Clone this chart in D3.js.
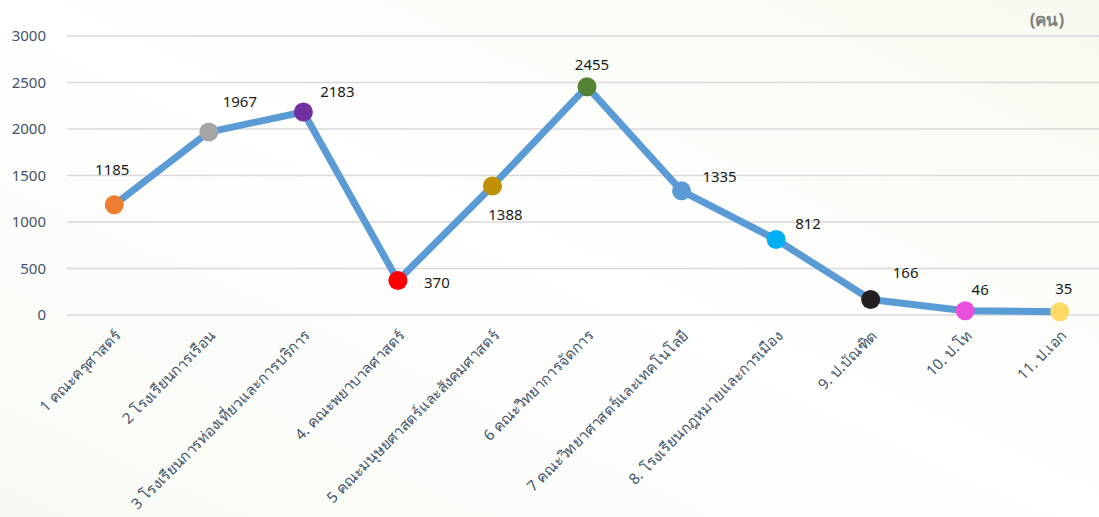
<!DOCTYPE html>
<html>
<head>
<meta charset="utf-8">
<script src="https://cdn.jsdelivr.net/npm/d3@7"></script>
<style>
  body { margin: 0; background: #fff; }
  svg { display: block; font-family: Tahoma, "Noto Sans", "DejaVu Sans", sans-serif; }
</style>
</head>
<body>
<div class="holder"></div>
<script>
var categories = [
  '1 คณะครุศาสตร์',
  '2 โรงเรียนการเรือน',
  '3 โรงเรียนการท่องเที่ยวและการบริการ',
  '4. คณะพยาบาลศาสตร์',
  '5 คณะมนุษยศาสตร์และสังคมศาสตร์',
  '6 คณะวิทยาการจัดการ',
  '7 คณะวิทยาศาสตร์และเทคโนโลยี',
  '8. โรงเรียนกฎหมายและการเมือง',
  '9. ป.บัณฑิต',
  '10. ป.โท',
  '11. ป.เอก'
]
var values = [1185, 1967, 2183, 370, 1388, 2455, 1335, 812, 166, 46, 35]
var pointColors = ['#ED7D31', '#A5A5A5', '#7030A0', '#FF0000', '#BF9000', '#548235',
  '#5B9BD5', '#00B0F0', '#231F20', '#E84FDD', '#FFD966']
var yTicks = [0, 500, 1000, 1500, 2000, 2500, 3000]
// where each value label sits relative to its point
var labelOffsets = [[-2, -35], [31, -30], [34, -20], [39, 2], [13, 29], [5, -22],
  [38, -14], [32, -16], [35, -27], [15, -21], [4, -23]]

var W = 1099, H = 517
var mLeft = 67, mRight = 1107, mTop = 36, mBottom = 315

var svg = d3.select('.holder')
  .append('svg')
  .attr('width', W)
  .attr('height', H)

// faint background wash
var defs = svg.append('defs')
var grad = defs.append('linearGradient')
  .attr('id', 'wash')
  .attr('x1', '0').attr('y1', '1').attr('x2', '1').attr('y2', '0')
grad.append('stop').attr('offset', '0').attr('stop-color', '#f7faf3')
grad.append('stop').attr('offset', '0.5').attr('stop-color', '#ffffff')
grad.append('stop').attr('offset', '1').attr('stop-color', '#f6faef')
svg.append('rect').attr('width', W).attr('height', H).attr('fill', 'url(#wash)')

var x = d3.scaleBand()
  .domain(categories)
  .range([mLeft, mRight])

var y = d3.scaleLinear()
  .domain([0, 3000])
  .range([mBottom, mTop])

// gridlines
svg.append('g')
  .selectAll('line')
  .data(yTicks)
  .enter()
  .append('line')
  .attr('x1', mLeft)
  .attr('x2', W)
  .attr('y1', function(d) { return y(d) })
  .attr('y2', function(d) { return y(d) })
  .attr('stroke', '#D9D9D9')
  .attr('stroke-width', 1.5)

var yAxis = d3.axisLeft(y)
  .tickValues(yTicks)
  .tickFormat(d3.format('d'))
  .tickSize(0)
  .tickPadding(21)

var yChart = svg.append('g')
  .attr('transform', 'translate(' + mLeft + ',0)')
  .call(yAxis)
yChart.select('.domain').remove()
yChart.selectAll('text')
  .attr('fill', '#44546A')
  .style('font-family', null)
  .style('font-size', '15px')
yChart.attr('font-family', null)

// x labels
var xAxis = d3.axisBottom(x).tickSize(0).tickPadding(0)
var xChart = svg.append('g')
  .attr('transform', 'translate(0,' + (mBottom + 18) + ')')
  .call(xAxis)
xChart.attr('font-family', null)
xChart.select('.domain').remove()
xChart.selectAll('text')
  .attr('fill', '#44546A')
  .style('font-size', '15px')
  .attr('text-anchor', 'end')
  .attr('dy', '0.35em')
  .attr('transform', 'translate(4,0) rotate(-45)')

var cx = function(d, i) { return x(categories[i]) + x.bandwidth() / 2 }

var line = d3.line()
  .x(function(d, i) { return cx(d, i) })
  .y(function(d) { return y(d) })

svg.append('path')
  .datum(values)
  .attr('d', line)
  .attr('fill', 'none')
  .attr('stroke', '#5B9BD5')
  .attr('stroke-width', 7)
  .attr('stroke-linejoin', 'round')

svg.append('g')
  .selectAll('circle')
  .data(values)
  .enter()
  .append('circle')
  .attr('cx', cx)
  .attr('cy', function(d) { return y(d) })
  .attr('r', 9.5)
  .attr('fill', function(d, i) { return pointColors[i] })

svg.append('g')
  .selectAll('text')
  .data(values)
  .enter()
  .append('text')
  .attr('x', function(d, i) { return cx(d, i) + labelOffsets[i][0] })
  .attr('y', function(d, i) { return y(d) + labelOffsets[i][1] })
  .attr('dy', '0.35em')
  .attr('text-anchor', 'middle')
  .attr('fill', '#1a1a1a')
  .style('font-size', '15px')
  .text(function(d) { return d })

svg.append('text')
  .attr('x', 1047)
  .attr('y', 20)
  .attr('dy', '0.35em')
  .attr('text-anchor', 'middle')
  .attr('fill', '#808080')
  .style('font-size', '17px')
  .style('font-weight', 'bold')
  .text('(คน)')
</script>
</body>
</html>
